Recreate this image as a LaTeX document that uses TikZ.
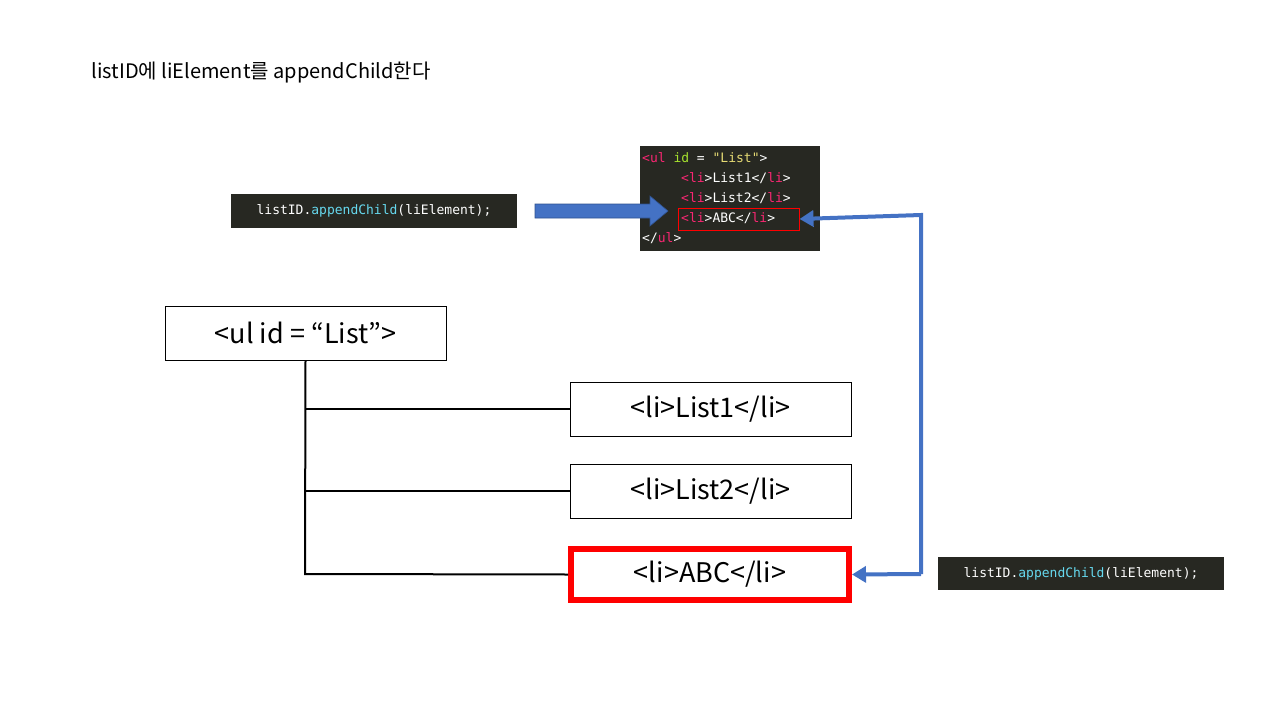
\documentclass[tikz,border=0pt]{standalone}
\usepackage{fontspec}
\setmainfont{Noto Sans CJK KR}
\newfontfamily\kr{Noto Sans CJK KR}
\newfontfamily\cmono{DejaVu Sans Mono}
\usetikzlibrary{arrows.meta}
\definecolor{codebg}{HTML}{272822}
\definecolor{kw}{HTML}{F92672}
\definecolor{fn}{HTML}{66D9EF}
\definecolor{attr}{HTML}{A6E22E}
\definecolor{str}{HTML}{E6DB74}
\definecolor{blu}{HTML}{4472C4}
\definecolor{bluedark}{HTML}{2F528F}
\begin{document}
\begin{tikzpicture}[x=1pt,y=-1pt,
  box/.style={draw=black,line width=0.8pt,fill=white,minimum width=281pt,minimum height=54pt,inner sep=0pt,font=\fontsize{27}{30}\selectfont},
  code/.style={fill=codebg,text=white,inner sep=0pt,font=\cmono\fontsize{13}{20}\selectfont},
  tree/.style={line width=2pt,black},
  conn/.style={line width=4pt,blu,-{Triangle[length=14pt,width=16pt]}}]
\useasboundingbox (0,0) rectangle (1280,720);
\node[anchor=west,font=\kr\fontsize{20}{24}\selectfont] (title) at (88,73) {listID에 liElement를 appendChild한다};
\node[code,minimum width=286pt,minimum height=34pt] (c1) at (374,211) {listID.\textcolor{fn}{appendChild}(liElement);};
\node[code,minimum width=286pt,minimum height=33pt] (c3) at (1081,573.5) {listID.\textcolor{fn}{appendChild}(liElement);};
\node[fill=codebg,minimum width=180pt,minimum height=105pt,inner sep=0pt] (c2) at (730,198.5) {};
\begin{scope}[every node/.style={anchor=west,text=white,font=\cmono\fontsize{13}{20}\selectfont,inner sep=0pt}]
\node (l1) at (642,158) {\textcolor{kw}{<}\textcolor{kw}{ul} \textcolor{attr}{id} = \textcolor{str}{"List"}>};
\node (l2) at (681,178) {\textcolor{kw}{<}\textcolor{kw}{li}>List1</\textcolor{kw}{li}>};
\node (l3) at (681,198) {\textcolor{kw}{<}\textcolor{kw}{li}>List2</\textcolor{kw}{li}>};
\node (l4) at (681,218) {\textcolor{kw}{<}\textcolor{kw}{li}>ABC</\textcolor{kw}{li}>};
\node (l5) at (642,238) {</\textcolor{kw}{ul}>};
\end{scope}
\node[draw=red,line width=1pt,minimum width=121pt,minimum height=22pt,inner sep=0pt] (hl) at (738.5,219) {};
% big arrow
\draw[bluedark,fill=blu,line width=0.6pt] (535,204) -- (650,204) -- (650,196) -- (668,211) -- (650,226) -- (650,218) -- (535,218) -- cycle;
% tree
\node[box] (ul) at (305.5,333) {<ul id = “List”>};
\node[box] (li1) at (710.5,409) {<li>List1</li>};
\node[box] (li2) at (710.5,491) {<li>List2</li>};
\node[box,draw=red,line width=6pt,minimum width=278pt,minimum height=51pt] (li3) at (710,574.5) {<li>ABC</li>};
\coordinate (j3) at (305,574);
\draw[tree] (ul.south) -- (j3) -- (li3.west);
\draw[tree] (305,409) -- (li1.west);
\draw[tree] (305,491) -- (li2.west);
% connectors
\coordinate (cr) at (921,574);
\coordinate (ct) at (921,215);
\draw[conn] (cr) -- (ct) -- (hl.east);
\draw[conn] (cr) -- (li3.east);
\end{tikzpicture}
\end{document}
